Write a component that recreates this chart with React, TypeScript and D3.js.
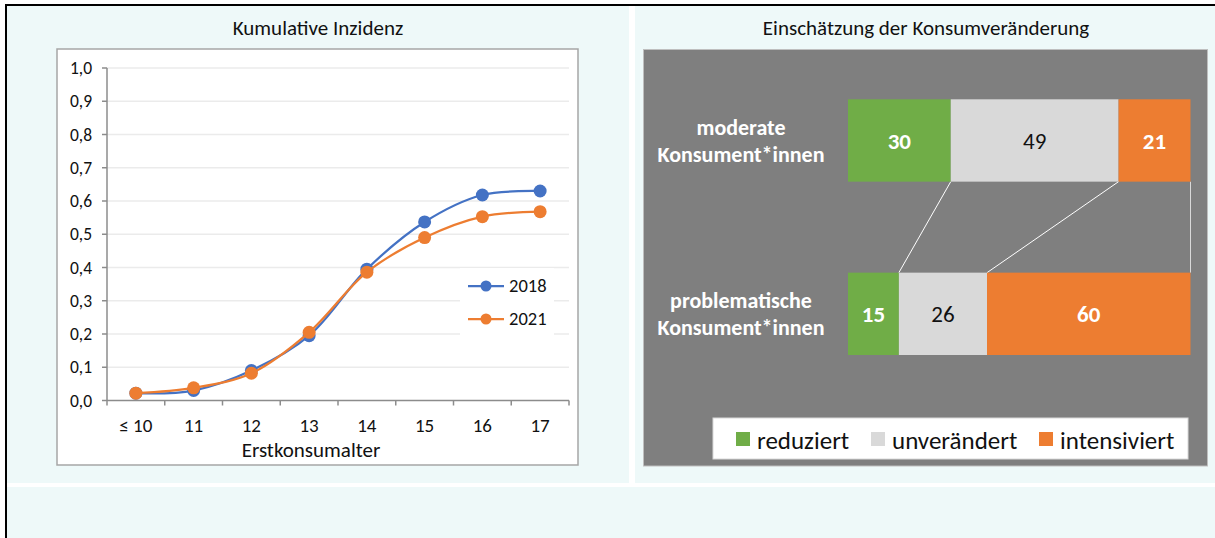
// @ts-nocheck
import React from 'react'
import * as d3 from 'd3'

// left chart: cumulative incidence by age of first use
const ages = ['≤ 10', '11', '12', '13', '14', '15', '16', '17']
const inc2018 = [0.022, 0.03, 0.09, 0.195, 0.395, 0.537, 0.618, 0.63]
const inc2021 = [0.022, 0.038, 0.082, 0.205, 0.386, 0.49, 0.553, 0.568]
const yTicks = [0, 0.1, 0.2, 0.3, 0.4, 0.5, 0.6, 0.7, 0.8, 0.9, 1.0]

// right chart: perceived change in consumption
const groups = ['moderate', 'problematische']
const groupLines = [['moderate', 'Konsument*innen'], ['problematische', 'Konsument*innen']]
const changeCats = ['reduziert', 'unverändert', 'intensiviert']
const reduziert = [30, 15]
const unveraendert = [49, 26]
const intensiviert = [21, 60]

const FONT = "Carlito, Calibri, Lato, 'Noto Sans', sans-serif"
const BLUE = '#4472C4'
const ORANGE = '#ED7D31'
const GREEN = '#70AD47'
const LGRAY = '#D9D9D9'
const PANEL = '#EEF9F9'

const LeftChart = () => {
    const x = d3.scaleBand(ages, [107, 569])
    const y = d3.scaleLinear([0, 1], [400.5, 68])
    const cx = (i) => x(ages[i]) + x.bandwidth() / 2

    const line = d3.line()
        .x((d, i) => cx(i))
        .y(d => y(d))
        .curve(d3.curveCatmullRom.alpha(0.5))

    const series = [
        { name: '2018', values: inc2018, color: BLUE },
        { name: '2021', values: inc2021, color: ORANGE },
    ]

    const bounds = ages.map(a => x(a)).concat([x.range()[1]])

    return <g fontFamily={FONT}>
        <text x={318} y={35} textAnchor="middle" fontSize={21} fill="#111">Kumulative Inzidenz</text>
        <rect x={57} y={49} width={521} height={416} fill="#fff" stroke="#a6a6a6" strokeWidth={1.5} />
        {/* grid */}
        {yTicks.slice(1).map(t =>
            <line key={t} x1={107} x2={569} y1={y(t)} y2={y(t)} stroke="#ebebeb" strokeWidth={1.5} />)}
        {/* y axis */}
        <line x1={107} x2={107} y1={y(1)} y2={y(0)} stroke="#8c8c8c" strokeWidth={1.5} />
        {yTicks.map(t => <g key={t}>
            <line x1={102} x2={107} y1={y(t)} y2={y(t)} stroke="#8c8c8c" strokeWidth={1.5} />
            <text x={92} y={y(t)} dy="0.35em" textAnchor="end" fontSize={17.5} fill="#111">
                {d3.format('.1f')(t).replace('.', ',')}
            </text>
        </g>)}
        {/* x axis */}
        <line x1={107} x2={569} y1={y(0)} y2={y(0)} stroke="#8c8c8c" strokeWidth={1.5} />
        {bounds.map((b, i) =>
            <line key={i} x1={b} x2={b} y1={y(0)} y2={y(0) + 5} stroke="#8c8c8c" strokeWidth={1.5} />)}
        {ages.map((a, i) =>
            <text key={a} x={cx(i)} y={432} textAnchor="middle" fontSize={19} fill="#111">{a}</text>)}
        <text x={311} y={457} textAnchor="middle" fontSize={21} fill="#111">Erstkonsumalter</text>
        {/* lines */}
        {series.map(s => <g key={s.name}>
            <path d={line(s.values)} fill="none" stroke={s.color} strokeWidth={2.25} />
            {s.values.map((v, i) => <circle key={i} cx={cx(i)} cy={y(v)} r={6.5} fill={s.color} />)}
        </g>)}
        {/* legend */}
        <rect x={460} y={268} width={94} height={67} fill="#fff" />
        {series.map((s, i) => <g key={s.name} transform={`translate(0, ${286 + i * 33})`}>
            <line x1={468} x2={504} y1={0} y2={0} stroke={s.color} strokeWidth={2.25} />
            <circle cx={486} cy={0} r={5.5} fill={s.color} />
            <text x={509} y={0} dy="0.35em" fontSize={18.5} fill="#111">{s.name}</text>
        </g>)}
    </g>
}

const RightChart = () => {
    const xs = d3.scaleLinear([0, 100], [848, 1190.5])
    const yb = d3.scaleBand(groups, [99.3, 355]).paddingInner(0.525)

    const rows = groups.map((g, gi) => {
        const vals = [reduziert[gi], unveraendert[gi], intensiviert[gi]]
        const total = d3.sum(vals)
        let acc = 0
        return vals.map((v, ci) => {
            const start = acc
            acc += v / total * 100
            return { v, ci, start, end: acc }
        })
    })
    const colors = [GREEN, LGRAY, ORANGE]
    const textColors = ['#fff', '#111', '#fff']
    const weights = ['bold', 'normal', 'bold']

    const y0 = yb(groups[0]) + yb.bandwidth()
    const y1 = yb(groups[1])

    const legendX = [736, 871, 1039]
    const labFs = 22

    return <g fontFamily={FONT}>
        <text x={926} y={35} textAnchor="middle" fontSize={21} fill="#111">Einschätzung der Konsumveränderung</text>
        <rect x={643.5} y={49.5} width={564} height={416.5} fill="#7F7F7F" stroke="#bfbfbf" strokeWidth={1} />
        {/* connector lines */}
        {rows[0].map((seg, i) =>
            <line key={i} x1={xs(seg.end)} y1={y0} x2={xs(rows[1][i].end)} y2={y1}
                stroke={i === 2 ? '#d9d9d9' : '#fff'} strokeWidth={1} />)}
        {rows.map((row, gi) => {
            const mid = yb(groups[gi]) + yb.bandwidth() / 2
            return <g key={gi}>
                {row.map(seg => <g key={seg.ci}>
                    <rect x={xs(seg.start)} y={yb(groups[gi])} width={xs(seg.end) - xs(seg.start)}
                        height={yb.bandwidth()} fill={colors[seg.ci]} />
                    <text x={(xs(seg.start) + xs(seg.end)) / 2} y={mid}
                        dy="0.36em" textAnchor="middle" fontSize={23} fontWeight={weights[seg.ci]}
                        fill={textColors[seg.ci]}>{seg.v}</text>
                </g>)}
                <text textAnchor="middle" fontSize={labFs} fontWeight="bold" fill="#fff">
                    <tspan x={741} y={mid - 13.5 + 0.35 * labFs}>{groupLines[gi][0]}</tspan>
                    <tspan x={741} y={mid + 13.5 + 0.35 * labFs}>{groupLines[gi][1]}</tspan>
                </text>
            </g>
        })}
        {/* legend */}
        <rect x={713} y={418} width={475} height={41} fill="#fff" stroke="#d9d9d9" strokeWidth={1} />
        {changeCats.map((c, i) => <g key={c}>
            <rect x={legendX[i]} y={432} width={14} height={14} fill={colors[i]} />
            <text x={legendX[i] + 21} y={440} dy="0.35em" fontSize={25} fill="#111">{c}</text>
        </g>)}
    </g>
}

export default function App() {
    return <svg width={1215} height={538} style={{ position: 'absolute', left: 0, top: 0 }}>
        <rect width={1215} height={538} fill="#fff" />
        <rect x={7} y={6} width={622} height={477} fill={PANEL} />
        <rect x={635} y={6} width={580} height={477} fill={PANEL} />
        <rect x={7} y={487} width={1208} height={51} fill={PANEL} />
        <line x1={6} x2={1215} y1={5} y2={5} stroke="#000" strokeWidth={2} />
        <line x1={6} x2={6} y1={4} y2={538} stroke="#000" strokeWidth={2} />
        <LeftChart />
        <RightChart />
    </svg>
}
